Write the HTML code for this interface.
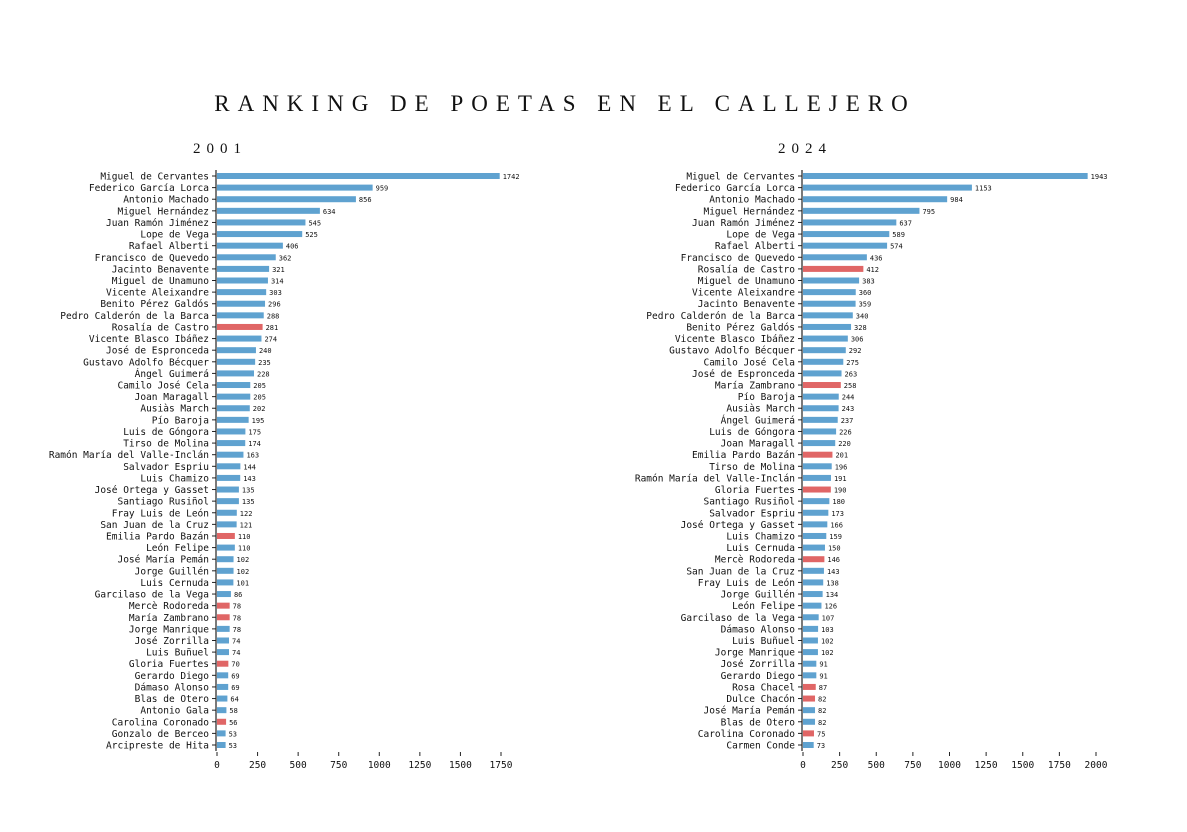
<!DOCTYPE html>
<html><head><meta charset="utf-8"><style>
body{margin:0;background:#fff;width:1187px;height:827px;overflow:hidden}
svg text{font-family:"DejaVu Sans Mono","Liberation Mono",monospace}
.serif{font-family:"Liberation Serif",serif!important}
</style></head><body>
<svg id="c" width="1187" height="827">
<text class="serif" x="565" y="111" text-anchor="middle" font-size="23" letter-spacing="8" fill="#111">RANKING DE POETAS EN EL CALLEJERO</text>
<text class="serif" x="220" y="153" text-anchor="middle" font-size="15" letter-spacing="6" fill="#111">2001</text>
<text class="serif" x="805" y="153" text-anchor="middle" font-size="15" letter-spacing="6" fill="#111">2024</text>
</svg>
<script>
const names2001=["Miguel de Cervantes","Federico García Lorca","Antonio Machado","Miguel Hernández","Juan Ramón Jiménez","Lope de Vega","Rafael Alberti","Francisco de Quevedo","Jacinto Benavente","Miguel de Unamuno","Vicente Aleixandre","Benito Pérez Galdós","Pedro Calderón de la Barca","Rosalía de Castro","Vicente Blasco Ibáñez","José de Espronceda","Gustavo Adolfo Bécquer","Ángel Guimerá","Camilo José Cela","Joan Maragall","Ausiàs March","Pío Baroja","Luis de Góngora","Tirso de Molina","Ramón María del Valle-Inclán","Salvador Espriu","Luis Chamizo","José Ortega y Gasset","Santiago Rusiñol","Fray Luis de León","San Juan de la Cruz","Emilia Pardo Bazán","León Felipe","José María Pemán","Jorge Guillén","Luis Cernuda","Garcilaso de la Vega","Mercè Rodoreda","María Zambrano","Jorge Manrique","José Zorrilla","Luis Buñuel","Gloria Fuertes","Gerardo Diego","Dámaso Alonso","Blas de Otero","Antonio Gala","Carolina Coronado","Gonzalo de Berceo","Arcipreste de Hita"];
const values2001=[1742,959,856,634,545,525,406,362,321,314,303,296,288,281,274,240,235,228,205,205,202,195,175,174,163,144,143,135,135,122,121,110,110,102,102,101,86,78,78,78,74,74,70,69,69,64,58,56,53,53];
const names2024=["Miguel de Cervantes","Federico García Lorca","Antonio Machado","Miguel Hernández","Juan Ramón Jiménez","Lope de Vega","Rafael Alberti","Francisco de Quevedo","Rosalía de Castro","Miguel de Unamuno","Vicente Aleixandre","Jacinto Benavente","Pedro Calderón de la Barca","Benito Pérez Galdós","Vicente Blasco Ibáñez","Gustavo Adolfo Bécquer","Camilo José Cela","José de Espronceda","María Zambrano","Pío Baroja","Ausiàs March","Ángel Guimerá","Luis de Góngora","Joan Maragall","Emilia Pardo Bazán","Tirso de Molina","Ramón María del Valle-Inclán","Gloria Fuertes","Santiago Rusiñol","Salvador Espriu","José Ortega y Gasset","Luis Chamizo","Luis Cernuda","Mercè Rodoreda","San Juan de la Cruz","Fray Luis de León","Jorge Guillén","León Felipe","Garcilaso de la Vega","Dámaso Alonso","Luis Buñuel","Jorge Manrique","José Zorrilla","Gerardo Diego","Rosa Chacel","Dulce Chacón","José María Pemán","Blas de Otero","Carolina Coronado","Carmen Conde"];
const values2024=[1943,1153,984,795,637,589,574,436,412,383,360,359,340,328,306,292,275,263,258,244,243,237,226,220,201,196,191,190,180,173,166,159,150,146,143,138,134,126,107,103,102,102,91,91,87,82,82,82,75,73];
const women=["Rosalía de Castro","Emilia Pardo Bazán","Mercè Rodoreda","María Zambrano","Gloria Fuertes","Carolina Coronado","Rosa Chacel","Dulce Chacón"];
const ticks2001=[0,250,500,750,1000,1250,1500,1750];
const ticks2024=[0,250,500,750,1000,1250,1500,1750,2000];
const NS="http://www.w3.org/2000/svg";
const svg=document.getElementById('c');
function mk(t,a,txt){const e=document.createElementNS(NS,t);for(const k in a)e.setAttribute(k,a[k]);if(txt!==undefined)e.textContent=txt;svg.appendChild(e);return e;}
function chart(id,names,vals,ticks,x0,x1,maxv){
  const sx=v=>x0+v/maxv*(x1-x0);
  const y0=176,dy=(745-176)/49;
  const sy=i=>y0+i*dy;
  let ax=mk('line',{x1:x0-1,x2:x0-1,y1:170,y2:751,stroke:'#222','stroke-width':1.2});
  
  
  names.forEach((n,i)=>{
    const y=sy(i),v=vals[i];
    const col=women.includes(n)?'#e06666':'#5fa2d0';
    let b=mk('rect',{x:x0,y:y-3,width:sx(v)-x0,height:6,fill:col});
    
    
    mk('line',{x1:x0-5,x2:x0-1,y1:y,y2:y,stroke:'#222'});
    let l=mk('text',{x:x0-8,y:y+3.5,'text-anchor':'end','font-size':9.5,fill:'#111'},n);
    
    
    let t=mk('text',{x:sx(v)+3,y:y+3,'font-size':7,fill:'#111'},v);
    
    
  });
  ticks.forEach(tv=>{
    const x=sx(tv);
    mk('line',{x1:x,x2:x,y1:752,y2:756,stroke:'#222'});
    let t=mk('text',{x:x,y:768,'text-anchor':'middle','font-size':9.5,fill:'#111'},tv);
    
    
  });
}
chart('chart-2001',names2001,values2001,ticks2001,217,501,1750);
chart('chart-2024',names2024,values2024,ticks2024,803,1096,2000);
</script>
</body></html>
